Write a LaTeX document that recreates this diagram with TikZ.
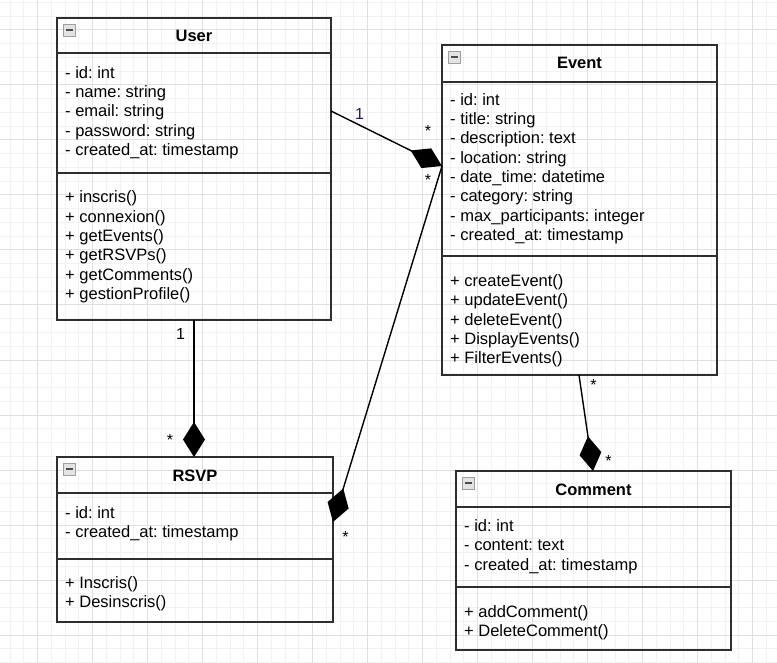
\documentclass[tikz,border=0pt]{standalone}
\usepackage{fontspec}
\setmainfont{Liberation Sans}
\usetikzlibrary{arrows.meta,calc}
\frenchspacing
\tikzset{
  minorgrid/.style={draw={rgb,255:red,242;green,242;blue,242}, line width=1pt},
  majorgrid/.style={draw={rgb,255:red,224;green,224;blue,224}, line width=1pt},
  boxline/.style={draw=black!82, line width=1.5pt},
  classbox/.style={boxline, anchor=north west, inner sep=0pt, outer sep=0pt},
  txt/.style={anchor=base west, inner sep=0pt, font=\fontsize{16.5}{19.3}\selectfont},
  ttl/.style={anchor=base, inner sep=0pt, font=\fontsize{16.5}{19.3}\selectfont\bfseries},
  conn/.style={draw=black, line width=1.4pt, -{Diamond[length=35pt,width=22pt]}},
  lbl/.style={inner sep=0pt, font=\fontsize{16}{19}\selectfont},
  iconbox/.style={draw=gray!75, fill=gray!22, line width=0.8pt},
}
\newcommand\clsicon[1]{%
  \draw[iconbox] ([shift={(6pt,-6pt)}]#1.north west) rectangle ++(12,12);
  \fill[black!70] ([shift={(8.5pt,-11pt)}]#1.north west) rectangle ++(7,2);
}
\begin{document}
\begin{tikzpicture}[x=1pt,y=-1pt]
\useasboundingbox (0,0) rectangle (777,663);
\fill[white] (0,0) rectangle (777,663);
% grid
\foreach \i in {0,...,56} \draw[minorgrid] ({10+13.75*\i},0) -- ({10+13.75*\i},663);
\foreach \i in {0,...,48} \draw[minorgrid] (0,{2.5+13.75*\i}) -- (777,{2.5+13.75*\i});
\foreach \i in {0,...,13} \draw[majorgrid] ({37.5+55*\i},0) -- ({37.5+55*\i},663);
\foreach \i in {0,...,11} \draw[majorgrid] (0,{30+55*\i}) -- (777,{30+55*\i});

% ---------- User ----------
\node[classbox, minimum width=274pt, minimum height=302pt] (user) at (57,18) {};
\draw[boxline] (user.west |- 0,53) -- (user.east |- 0,53);
\draw[boxline] (user.west |- 0,173) -- (user.east |- 0,173);
\clsicon{user}
\node[ttl] (userT) at (194,41.7) {User};
\foreach \t [count=\i from 0] in {- id: int, - name: string, - email: string, - password: string, - created\_at: timestamp}
  \node[txt] (userA\i) at (65,{78.3+19.3*\i}) {\t};
\foreach \t [count=\i from 0] in {+ inscris(), + connexion(), + getEvents(), + getRSVPs(), + getComments(), + gestionProfile()}
  \node[txt] (userM\i) at (65,{203+19.3*\i}) {\t};

% ---------- Event ----------
\node[classbox, minimum width=275pt, minimum height=330pt] (event) at (442,45) {};
\draw[boxline] (event.west |- 0,82) -- (event.east |- 0,82);
\draw[boxline] (event.west |- 0,256) -- (event.east |- 0,256);
\clsicon{event}
\node[ttl] (eventT) at (579.5,69) {Event};
\foreach \t [count=\i from 0] in {- id: int, - title: string, - description: text, - location: string, - date\_time: datetime, - category: string, - max\_participants: integer, - created\_at: timestamp}
  \node[txt] (eventA\i) at (450,{105.3+19.3*\i}) {\t};
\foreach \t [count=\i from 0] in {+ createEvent(), + updateEvent(), + deleteEvent(), + DisplayEvents(), + FilterEvents()}
  \node[txt] (eventM\i) at (450,{286.5+19.3*\i}) {\t};

% ---------- RSVP ----------
\node[classbox, minimum width=276pt, minimum height=165pt] (rsvp) at (57,457) {};
\draw[boxline] (rsvp.west |- 0,493) -- (rsvp.east |- 0,493);
\draw[boxline] (rsvp.west |- 0,559) -- (rsvp.east |- 0,559);
\clsicon{rsvp}
\node[ttl] (rsvpT) at (195,481.7) {RSVP};
\foreach \t [count=\i from 0] in {- id: int, - created\_at: timestamp}
  \node[txt] (rsvpA\i) at (65,{518.3+19.3*\i}) {\t};
\foreach \t [count=\i from 0] in {+ Inscris(), + Desinscris()}
  \node[txt] (rsvpM\i) at (65,{588.3+19.3*\i}) {\t};

% ---------- Comment ----------
\node[classbox, minimum width=275pt, minimum height=179pt] (comment) at (456,471) {};
\draw[boxline] (comment.west |- 0,507) -- (comment.east |- 0,507);
\draw[boxline] (comment.west |- 0,587) -- (comment.east |- 0,587);
\clsicon{comment}
\node[ttl] (commentT) at (593.5,495.2) {Comment};
\foreach \t [count=\i from 0] in {- id: int, - content: text, - created\_at: timestamp}
  \node[txt] (commentA\i) at (464,{531.5+19.3*\i}) {\t};
\foreach \t [count=\i from 0] in {+ addComment(), + DeleteComment()}
  \node[txt] (commentM\i) at (464,{617+19.3*\i}) {\t};

% ---------- connectors ----------
\draw[conn] ([yshift=-93pt]user.north east) -- ([yshift=-121pt]event.north west);
\draw[conn] ([yshift=-121pt]event.north west) -- ([yshift=-65pt]rsvp.north east);
\draw[conn] (user.south) -- (user.south |- rsvp.north);
\draw[conn] ([xshift=137pt]event.south west) -- ([xshift=137pt]comment.north west);

% ---------- multiplicities ----------
\node[lbl, text={rgb,255:red,25;green,25;blue,110}] (m1) at (359.5,113.5) {1};
\node[lbl] (m2) at (428,131) {*};
\node[lbl] (m3) at (428,179.5) {*};
\node[lbl] (m4) at (180.5,333.5) {1};
\node[lbl] (m5) at (170,439.5) {*};
\node[lbl] (m6) at (345.5,537) {*};
\node[lbl] (m7) at (593.5,384.5) {*};
\node[lbl] (m8) at (608.5,461) {*};
\end{tikzpicture}
\end{document}
